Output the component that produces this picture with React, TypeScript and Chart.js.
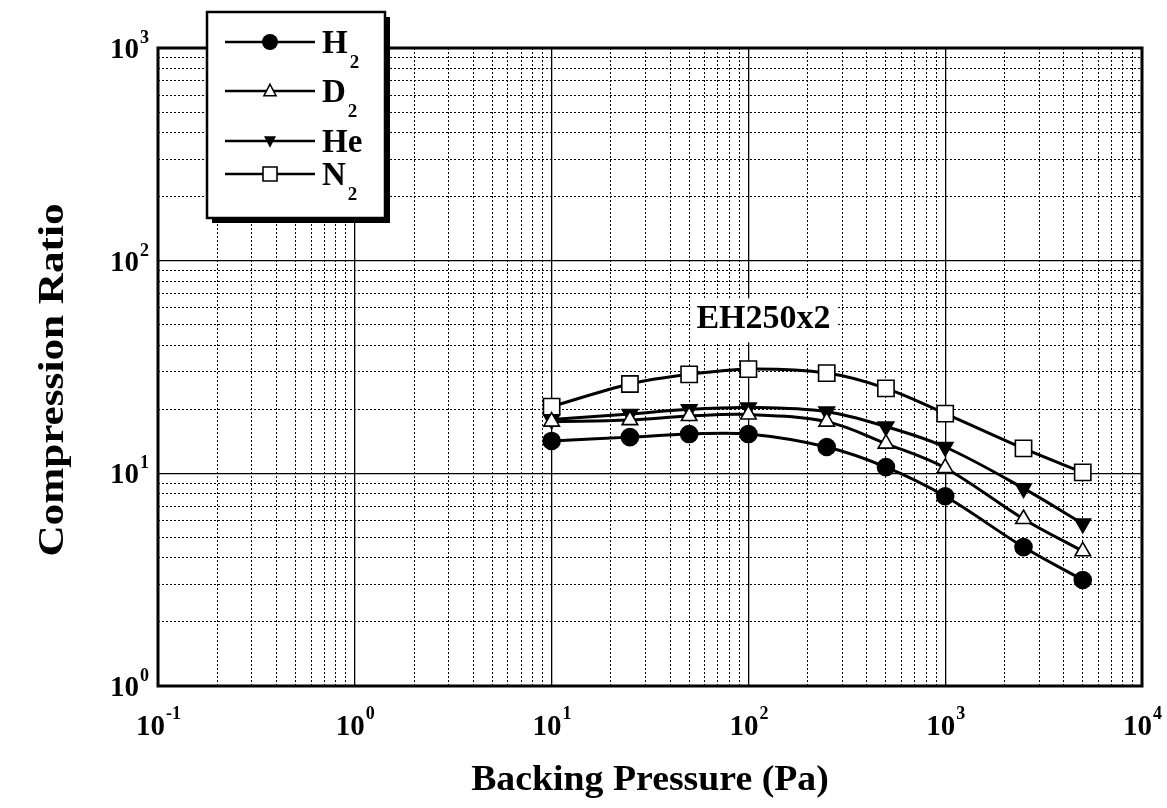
import React, { useEffect, useRef } from "react";
import { Chart, registerables } from "chart.js";

Chart.register(...registerables);

// ---- data ----
const pressures = [10, 25, 50, 100, 250, 500, 1000, 2500, 5000];
const h2Values = [14.2, 14.8, 15.3, 15.3, 13.3, 10.7, 7.8, 4.5, 3.15];
const d2Values = [17.5, 17.8, 18.6, 18.9, 17.5, 13.8, 10.6, 6.1, 4.3];
const heValues = [17.9, 19.0, 20.0, 20.4, 19.5, 16.6, 13.3, 8.5, 5.8];
const n2Values = [20.6, 26.3, 29.2, 30.9, 29.6, 25.1, 19.1, 13.1, 10.1];

const seriesBase = ["H", "D", "He", "N"];
const seriesSub = ["2", "2", "", "2"];

const xTickExponents = [-1, 0, 1, 2, 3, 4];
const yTickExponents = [0, 1, 2, 3];

const xTitle = "Backing Pressure (Pa)";
const yTitle = "Compression Ratio";
const annotationText = "EH250x2";

const FONT = "'Liberation Serif', 'Times New Roman', serif";

function gridValues(minExp: number, maxExp: number): number[] {
  const out: number[] = [];
  for (let e = minExp; e < maxExp; e++) {
    for (let m = 1; m <= 9; m++) out.push(Number((m * Math.pow(10, e)).toPrecision(6)));
  }
  out.push(Math.pow(10, maxExp));
  return out;
}

function isPow10(v: number) {
  const l = Math.log10(v);
  return Math.abs(l - Math.round(l)) < 1e-9;
}

function toPoints(vals: number[]) {
  return pressures.map((x, i) => ({ x, y: vals[i] }));
}

function drawMarker(ctx: CanvasRenderingContext2D, style: string, x: number, y: number, r: number) {
  ctx.save();
  ctx.lineWidth = 1.6;
  ctx.strokeStyle = "#000";
  ctx.beginPath();
  if (style === "circle") {
    ctx.arc(x, y, r, 0, Math.PI * 2);
    ctx.fillStyle = "#000";
    ctx.fill();
  } else if (style === "triUp") {
    const h = r * 0.9;
    ctx.moveTo(x, y - h);
    ctx.lineTo(x + r * 0.8, y + h * 0.7);
    ctx.lineTo(x - r * 0.8, y + h * 0.7);
    ctx.closePath();
    ctx.fillStyle = "#fff";
    ctx.fill();
    ctx.stroke();
  } else if (style === "triDown") {
    const h = r * 0.9;
    ctx.moveTo(x, y + h);
    ctx.lineTo(x + r * 0.8, y - h * 0.7);
    ctx.lineTo(x - r * 0.8, y - h * 0.7);
    ctx.closePath();
    ctx.fillStyle = "#000";
    ctx.fill();
  } else {
    ctx.rect(x - r, y - r, 2 * r, 2 * r);
    ctx.fillStyle = "#fff";
    ctx.fill();
    ctx.stroke();
  }
  ctx.restore();
}

function stretchedText(ctx: CanvasRenderingContext2D, text: string, x: number, y: number, sx: number) {
  ctx.save();
  ctx.translate(x, y);
  ctx.scale(sx, 1);
  ctx.fillText(text, 0, 0);
  ctx.restore();
}

const decorPlugin = {
  id: "decor",
  beforeDatasetsDraw(chart: any) {
    const ctx: CanvasRenderingContext2D = chart.ctx;
    const xs = chart.scales.x;
    const ys = chart.scales.y;
    ctx.save();
    ctx.font = `bold 34px ${FONT}`;
    ctx.textBaseline = "alphabetic";
    const tx = xs.getPixelForValue(100) - 52;
    const ty = ys.getPixelForValue(40) - 17;
    const w = ctx.measureText(annotationText).width;
    ctx.fillStyle = "#fff";
    ctx.fillRect(tx - 6, ty - 30, w + 12, 44);
    ctx.fillStyle = "#000";
    ctx.fillText(annotationText, tx, ty);
    ctx.restore();
  },
  afterDraw(chart: any) {
    const ctx: CanvasRenderingContext2D = chart.ctx;
    const a = chart.chartArea;
    const xs = chart.scales.x;
    const ys = chart.scales.y;
    ctx.save();
    ctx.strokeStyle = "#000";
    ctx.lineWidth = 3;
    ctx.strokeRect(a.left, a.top, a.right - a.left, a.bottom - a.top);

    const baseFont = `bold 29px ${FONT}`;
    const expFont = `bold 18px ${FONT}`;
    ctx.fillStyle = "#000";
    ctx.textAlign = "left";
    for (const e of xTickExponents) {
      const px = xs.getPixelForValue(Math.pow(10, e));
      ctx.font = baseFont;
      const wb = ctx.measureText("10").width;
      ctx.font = expFont;
      const es = String(e);
      const we = ctx.measureText(es).width;
      const start = px - (wb + we) / 2;
      ctx.font = baseFont;
      ctx.fillText("10", start, a.bottom + 49);
      ctx.font = expFont;
      ctx.fillText(es, start + wb + 1, a.bottom + 33);
    }
    for (const e of yTickExponents) {
      const py = ys.getPixelForValue(Math.pow(10, e));
      ctx.font = expFont;
      const es = String(e);
      const we = ctx.measureText(es).width;
      ctx.font = baseFont;
      const wb = ctx.measureText("10").width;
      const right = a.left - 9;
      ctx.fillText("10", right - we - wb - 1, py + 10);
      ctx.font = expFont;
      ctx.fillText(es, right - we, py - 5);
    }
    // axis titles
    ctx.font = `bold 36px ${FONT}`;
    ctx.textAlign = "center";
    stretchedText(ctx, xTitle, (a.left + a.right) / 2, a.bottom + 104, 1.05);
    ctx.save();
    ctx.translate(63, 380);
    ctx.rotate(-Math.PI / 2);
    ctx.scale(1.2, 1);
    ctx.fillText(yTitle, 0, 0);
    ctx.restore();

    // legend box
    const bx = 207, by = 12, bw = 178, bh = 206;
    ctx.fillStyle = "#000";
    ctx.fillRect(bx + 5, by + 5, bw, bh);
    ctx.fillStyle = "#fff";
    ctx.fillRect(bx, by, bw, bh);
    ctx.strokeStyle = "#000";
    ctx.lineWidth = 2.5;
    ctx.strokeRect(bx, by, bw, bh);
    const rows = [42, 91, 141, 174];
    const styles = ["circle", "triUp", "triDown", "rect"];
    const radii = [8, 7.5, 7.5, 7];
    ctx.textAlign = "left";
    for (let i = 0; i < 4; i++) {
      const y = rows[i];
      ctx.strokeStyle = "#000";
      ctx.lineWidth = 2.5;
      ctx.beginPath();
      ctx.moveTo(225, y);
      ctx.lineTo(315, y);
      ctx.stroke();
      drawMarker(ctx, styles[i], 270, y, radii[i]);
      ctx.fillStyle = "#000";
      ctx.font = `bold 33px ${FONT}`;
      ctx.fillText(seriesBase[i], 322, y + 11);
      const wb = ctx.measureText(seriesBase[i]).width;
      if (seriesSub[i]) {
        ctx.font = `bold 19px ${FONT}`;
        ctx.fillText(seriesSub[i], 322 + wb + 2, y + 26);
      }
    }
    ctx.restore();
  },
};

export default function App() {
  const ref = useRef<HTMLCanvasElement | null>(null);
  useEffect(() => {
    if (!ref.current) return;
    const xGrid = gridValues(-1, 4);
    const yGrid = gridValues(0, 3);
    const common = {
      borderColor: "#000",
      borderWidth: 3,
      tension: 0.35,
      pointBorderColor: "#000",
      pointBorderWidth: 1.6,
      pointHoverRadius: 0,
    };
    const gridOpts = {
      color: "#000",
      lineWidth: (c: any) => (c.tick && c.tick.major ? 1.3 : 1),
      drawTicks: false,
      tickLength: 0,
    };
    const borderOpts = {
      display: false,
      dash: (c: any) => (c.tick && c.tick.major ? [] : [2, 2]),
    };
    const chart = new Chart(ref.current, {
      type: "line",
      data: {
        datasets: [
          { ...common, label: "H2", data: toPoints(h2Values), pointStyle: "circle", pointRadius: 8.5, pointBackgroundColor: "#000" },
          { ...common, label: "D2", data: toPoints(d2Values), pointStyle: "triangle", pointRadius: 9, pointBackgroundColor: "#fff" },
          { ...common, label: "He", data: toPoints(heValues), pointStyle: "triangle", pointRotation: 180, pointRadius: 9, pointBackgroundColor: "#000" },
          { ...common, label: "N2", data: toPoints(n2Values), pointStyle: "rect", pointRadius: 11.5, pointBackgroundColor: "#fff" },
        ],
      } as any,
      options: {
        responsive: false,
        animation: false,
        events: [],
        layout: { padding: { left: 158, right: 25, top: 48, bottom: 122 } },
        plugins: { legend: { display: false }, tooltip: { enabled: false } },
        scales: {
          x: {
            type: "logarithmic",
            min: 0.1,
            max: 10000,
            afterBuildTicks: (s: any) => {
              s.ticks = xGrid.map((v) => ({ value: v, major: isPow10(v) }));
            },
            ticks: { display: false },
            grid: gridOpts,
            border: borderOpts,
          },
          y: {
            type: "logarithmic",
            min: 1,
            max: 1000,
            afterBuildTicks: (s: any) => {
              s.ticks = yGrid.map((v) => ({ value: v, major: isPow10(v) }));
            },
            ticks: { display: false },
            grid: gridOpts,
            border: borderOpts,
          },
        },
      } as any,
      plugins: [decorPlugin],
    });
    return () => chart.destroy();
  }, []);
  return (
    <div style={{ position: "fixed", left: 0, top: 0, width: 1167, height: 808, background: "#fff" }}>
      <canvas ref={ref} width={1167} height={808} style={{ display: "block" }} />
    </div>
  );
}
